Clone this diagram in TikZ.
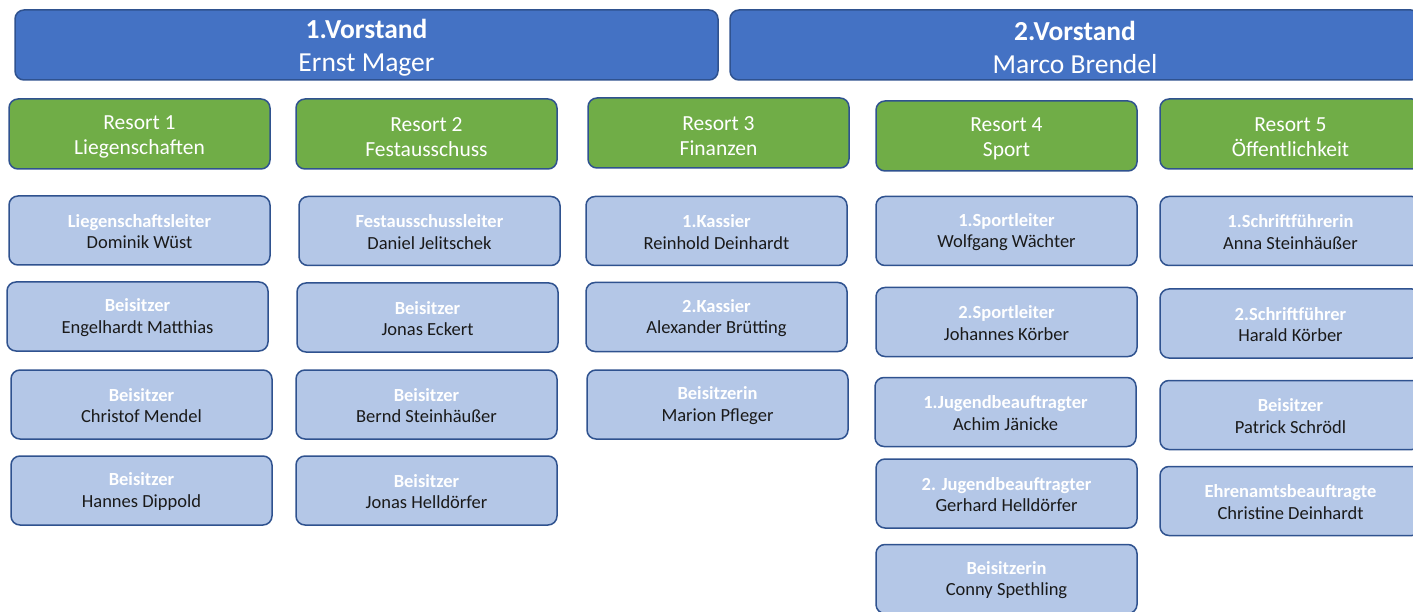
\documentclass[tikz,border=0pt]{standalone}
\usepackage{fontspec}
\setmainfont{Carlito}
\definecolor{vblue}{HTML}{4472C4}
\definecolor{rgreen}{HTML}{70AD47}
\definecolor{plight}{HTML}{B4C7E7}
\definecolor{edgeblue}{HTML}{2F528F}
\definecolor{nameblack}{HTML}{1A1A1A}
\tikzset{
  basebox/.style={draw=edgeblue, line width=1.5pt, rounded corners=9pt, align=center, inner sep=0pt},
  vbox/.style={basebox, fill=vblue, text=white, minimum height=70pt, font=\fontsize{27.5}{33.4}\selectfont},
  rbox/.style={basebox, fill=rgreen, text=white, minimum width=261pt, minimum height=70pt, font=\fontsize{21.5}{25}\selectfont},
  pbox/.style={basebox, fill=plight, text=nameblack, minimum width=261pt, minimum height=69pt, font=\fontsize{18.5}{21.6}\selectfont},
}
\newcommand{\vtitle}[1]{\rule{0pt}{0.885em}\textbf{#1}}
\newcommand{\rtitle}[1]{\rule{0pt}{0.93em}#1}
\newcommand{\ptitle}[1]{\rule{0pt}{0.8em}\textcolor{white}{\textbf{#1}}}
\begin{document}
\begin{tikzpicture}[x=1pt,y=-1pt]
\useasboundingbox (0,0) rectangle (1413,612);
% Vorstand
\node[vbox, minimum width=703pt] (v1) at (366.5,45) {\vtitle{1.Vorstand}\\Ernst Mager};
\node[vbox, minimum width=690pt] (v2) at (1075,45) {\vtitle{2.Vorstand}\\Marco Brendel};
% Resorts
\node[rbox] (r1) at (139.5,134) {\rtitle{Resort 1}\\Liegenschaften};
\node[rbox] (r2) at (426.5,134) {\rtitle{Resort 2}\\Festausschuss};
\node[rbox] (r3) at (718.5,133) {\rtitle{Resort 3}\\Finanzen};
\node[rbox] (r4) at (1006.5,136) {\rtitle{Resort 4}\\Sport};
\node[rbox] (r5) at (1290.5,134) {\rtitle{Resort 5}\\Öffentlichkeit};
% Column 1
\node[pbox] (a1) at (139.5,230.5) {\ptitle{Liegenschaftsleiter}\\Dominik Wüst};
\node[pbox] (a2) at (137.5,316.5) {\ptitle{Beisitzer}\\Engelhardt Matthias};
\node[pbox] (a3) at (141.5,404.5) {\ptitle{Beisitzer}\\Christof Mendel};
\node[pbox] (a4) at (141.5,490.5) {\ptitle{Beisitzer}\\Hannes Dippold};
% Column 2
\node[pbox] (b1) at (429.5,231) {\ptitle{Festausschussleiter}\\Daniel Jelitschek};
\node[pbox] (b2) at (427.5,317.5) {\ptitle{Beisitzer}\\Jonas Eckert};
\node[pbox] (b3) at (426.5,404.5) {\ptitle{Beisitzer}\\Bernd Steinhäußer};
\node[pbox] (b4) at (426.5,490.5) {\ptitle{Beisitzer}\\Jonas Helldörfer};
% Column 3
\node[pbox] (c1) at (716.5,231) {\ptitle{1.Kassier}\\Reinhold Deinhardt};
\node[pbox] (c2) at (716.5,317) {\ptitle{2.Kassier}\\Alexander Brütting};
\node[pbox] (c3) at (717.5,404.5) {\ptitle{Beisitzerin}\\Marion Pfleger};
% Column 4
\node[pbox] (d1) at (1006.5,231) {\ptitle{1.Sportleiter}\\Wolfgang Wächter};
\node[pbox] (d2) at (1006.5,322) {\ptitle{2.Sportleiter}\\Johannes Körber};
\node[pbox] (d3) at (1005.5,412) {\ptitle{1.Jugendbeauftragter}\\Achim Jänicke};
\node[pbox] (d4) at (1006.5,493.5) {\ptitle{2. Jugendbeauftragter}\\Gerhard Helldörfer};
\node[pbox] (d5) at (1006.5,579) {\ptitle{Beisitzerin}\\Conny Spethling};
% Column 5
\node[pbox] (e1) at (1290.5,231) {\ptitle{1.Schriftführerin}\\Anna Steinhäußer};
\node[pbox] (e2) at (1290.5,323.5) {\ptitle{2.Schriftführer}\\Harald Körber};
\node[pbox] (e3) at (1290.5,415) {\ptitle{Beisitzer}\\Patrick Schrödl};
\node[pbox] (e4) at (1290.5,501) {\ptitle{Ehrenamtsbeauftragte}\\Christine Deinhardt};
\end{tikzpicture}
\end{document}
